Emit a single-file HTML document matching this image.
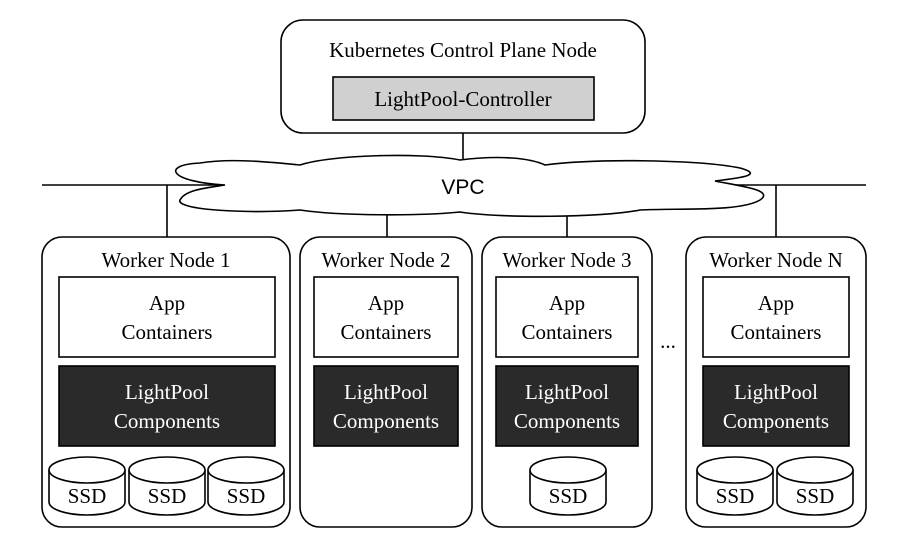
<!DOCTYPE html>
<html><head><style>
body{margin:0;background:#fff;}
svg text{font-family:"Liberation Serif",serif;font-size:21px;}
svg text.w{fill:#fff;}
</style></head><body>
<svg width="906" height="546" viewBox="0 0 906 546" xmlns="http://www.w3.org/2000/svg">
<rect width="906" height="546" fill="#fff"/>
<g fill="none" stroke="#000" stroke-width="1.6">
<rect x="281" y="20" width="364" height="113" rx="22"/>
<line x1="463" y1="133" x2="463" y2="162"/>
<line x1="42" y1="185" x2="225" y2="185"/>
<line x1="715" y1="185" x2="866" y2="185"/>
<line x1="167" y1="185" x2="167" y2="237"/>
<line x1="387" y1="210" x2="387" y2="237"/>
<line x1="567" y1="210" x2="567" y2="237"/>
<line x1="776" y1="185" x2="776" y2="237"/>
</g>
<rect x="333" y="77" width="261" height="43" fill="#d0d0d0" stroke="#000" stroke-width="1.6"/>
<text x="463" y="57" text-anchor="middle">Kubernetes Control Plane Node</text>
<text x="463" y="106" text-anchor="middle">LightPool-Controller</text>
<path d="M225,185 C170,182 160,165 200,163 C230,158 270,162 300,165 C330,155 420,152 460,160 C500,155 530,158 545,165 C600,158 700,160 740,168 C765,175 740,178 715,181 C740,186 775,190 760,200 C740,212 680,208 640,210 C600,218 500,218 460,212 C420,216 340,216 300,210 C250,214 175,210 180,200 C185,190 205,188 225,185 Z" fill="#fff" stroke="#000" stroke-width="1.6"/>
<text x="463" y="194" text-anchor="middle" style="font-family:'Liberation Sans',sans-serif;font-size:21px">VPC</text>

<g fill="#fff" stroke="#000" stroke-width="1.6">
<rect x="42" y="237" width="248" height="290" rx="20"/>
<rect x="300" y="237" width="172" height="290" rx="20"/>
<rect x="482" y="237" width="170" height="290" rx="20"/>
<rect x="686" y="237" width="180" height="290" rx="20"/>
<rect x="59" y="277" width="216" height="80"/>
<rect x="314" y="277" width="144" height="80"/>
<rect x="496" y="277" width="142" height="80"/>
<rect x="703" y="277" width="146" height="80"/>
</g>
<g fill="#2a2a2a" stroke="#000" stroke-width="1.6">
<rect x="59" y="366" width="216" height="80"/>
<rect x="314" y="366" width="144" height="80"/>
<rect x="496" y="366" width="142" height="80"/>
<rect x="703" y="366" width="146" height="80"/>
</g>
<text x="166" y="267" text-anchor="middle">Worker Node 1</text>
<text x="386" y="267" text-anchor="middle">Worker Node 2</text>
<text x="567" y="267" text-anchor="middle">Worker Node 3</text>
<text x="776" y="267" text-anchor="middle">Worker Node N</text>
<g text-anchor="middle">
<text x="167" y="310">App</text><text x="167" y="339">Containers</text>
<text x="386" y="310">App</text><text x="386" y="339">Containers</text>
<text x="567" y="310">App</text><text x="567" y="339">Containers</text>
<text x="776" y="310">App</text><text x="776" y="339">Containers</text>
</g>
<g text-anchor="middle">
<text class="w" x="167" y="399">LightPool</text><text class="w" x="167" y="428">Components</text>
<text class="w" x="386" y="399">LightPool</text><text class="w" x="386" y="428">Components</text>
<text class="w" x="567" y="399">LightPool</text><text class="w" x="567" y="428">Components</text>
<text class="w" x="776" y="399">LightPool</text><text class="w" x="776" y="428">Components</text>
</g>
<text x="668" y="348" text-anchor="middle">...</text>
<defs>
<g id="ssd">
<path d="M0,14 L0,46 A38,13 0 0 0 76,46 L76,14" fill="#fff" stroke="#000" stroke-width="1.6"/>
<ellipse cx="38" cy="14" rx="38" ry="13" fill="#fff" stroke="#000" stroke-width="1.6"/>
</g>
</defs>
<use href="#ssd" x="49" y="456"/>
<use href="#ssd" x="129" y="456"/>
<use href="#ssd" x="208" y="456"/>
<use href="#ssd" x="530" y="456"/>
<use href="#ssd" x="697" y="456"/>
<use href="#ssd" x="777" y="456"/>
<g text-anchor="middle">
<text x="87" y="503">SSD</text><text x="167" y="503">SSD</text><text x="246" y="503">SSD</text>
<text x="568" y="503">SSD</text><text x="735" y="503">SSD</text><text x="815" y="503">SSD</text>
</g>
</svg>
</body></html>
